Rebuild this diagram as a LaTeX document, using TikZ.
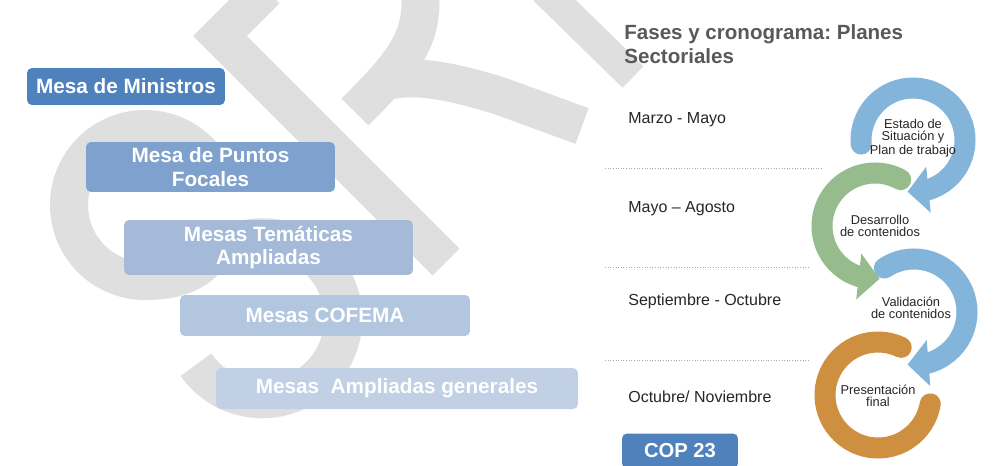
\documentclass[tikz,border=0pt]{standalone}
\usepackage{fontspec}
\setmainfont{Liberation Sans}
\usetikzlibrary{arrows.meta,bending}
\frenchspacing

\definecolor{wmgray}{RGB}{223,223,223}
\definecolor{mesaA}{RGB}{79,129,189}
\definecolor{mesaB}{RGB}{126,161,205}
\definecolor{mesaC}{RGB}{165,186,217}
\definecolor{mesaD}{RGB}{179,198,224}
\definecolor{mesaE}{RGB}{193,208,229}
\definecolor{ringblue}{RGB}{131,181,219}
\definecolor{ringgreen}{RGB}{150,187,140}
\definecolor{ringorange}{RGB}{207,143,64}
\definecolor{titlegray}{RGB}{89,89,89}
\definecolor{textgray}{RGB}{38,38,38}

\begin{document}
\begin{tikzpicture}[x=0.02cm, y=-0.02cm,
		mesa/.style={rounded corners=0.1cm, inner sep=0pt, align=center, text=white, font=\fontsize{11.8}{13.6}\selectfont\bfseries},
		wmark/.style={wmgray, line width=0.76cm},
		ring/.style={line width=0.42cm, line cap=round},
		head/.style={-{Triangle[width=0.9cm, length=0.42cm, flex]}},
		ringtext/.style={align=center, text=textgray, inner sep=0pt, font=\fontsize{7.3}{6.7}\selectfont},
		datelabel/.style={anchor=west, inner sep=0pt, text=textgray, font=\fontsize{9.1}{11}\selectfont},
		sep/.style={gray!70, densely dotted, line width=0.5pt}]

			\clip (0,0) rectangle (1007,466);
			\fill[white] (0,0) rectangle (1007,466);

			% Draw the watermark behind everything
			\draw[wmark, line join=miter] (266,-10) -- (220,36) -- (446,262);
			\draw[wmark] (420,-10) .. controls (424,38) and (405,62) .. (355,112);
			\draw[wmark] (392,80) .. controls (420,75) and (455,82) .. (500,96) -- (582,126);
			\draw[wmark, line width=0.6cm] (544,-10) -- (633,77);
			\draw[wmark] (145,205) ++(-40:76) arc[start angle=-40, end angle=-270, radius=76]
			.. controls (170,281) and (190,276) .. (205,261)
			arc[start angle=225, end angle=505, radius=81];

			% Draw the boxes of the mesas
			\node[mesa, fill=mesaA, minimum width=3.96cm, minimum height=0.74cm] (ministros) at (126,86.5) {Mesa de Ministros};
			\node[mesa, fill=mesaB, minimum width=4.98cm, minimum height=1.0cm] (focales) at (210.5,167) {Mesa de Puntos\\Focales};
			\node[mesa, fill=mesaC, minimum width=5.78cm, minimum height=1.1cm] (tematicas) at (268.5,247.5) {Mesas Temáticas\\Ampliadas};
			\node[mesa, fill=mesaD, minimum width=5.8cm, minimum height=0.82cm] (cofema) at (325,315.5) {Mesas COFEMA};
			\node[mesa, fill=mesaE, minimum width=7.24cm, minimum height=0.82cm] (generales) at (397,388.5) {Mesas\ \ Ampliadas generales};

			% Draw the title and the dates
			\node[anchor=north west, inner sep=0pt, align=left, text=titlegray, font=\fontsize{11.7}{13.6}\selectfont\bfseries] (titulo) at (624,24) {Fases y cronograma: Planes\\Sectoriales};

			\node[datelabel] (marzo) at (628,120) {Marzo - Mayo};
			\node[datelabel] (mayo) at (628,209) {Mayo – Agosto};
			\node[datelabel] (septiembre) at (628,301) {Septiembre - Octubre};
			\node[datelabel] (octubre) at (628,397) {Octubre/ Noviembre};

			\draw[sep] (605,168) -- (822,168);
			\draw[sep] (605,267) -- (810,267);
			\draw[sep] (605,360) -- (810,360);

			\node[mesa, fill=mesaA, minimum width=2.32cm, minimum height=0.7cm, font=\fontsize{11.5}{13}\selectfont\bfseries] (cop) at (680,451) {COP 23};

			% Draw the circular arrows, last phase first
			\draw[ring, ringorange] (878,395) ++(296:53) arc[start angle=296, end angle=9.6, radius=53];
			\draw[ring, ringblue, head] (914,312) ++(236:53) arc[start angle=236, end angle=457, radius=53];
			\draw[ring, ringgreen, head] (875,226) ++(299:53) arc[start angle=299, end angle=85, radius=53];
			\draw[ring, ringblue, head] (913,140) ++(175.5:52) arc[start angle=175.5, end angle=456, radius=52];

			% Texts inside the arrows
			\node[ringtext] (estado) at (913,138) {Estado de\\Situación y\\Plan de trabajo};
			\node[ringtext] (desarrollo) at (880,226) {Desarrollo\\de contenidos};
			\node[ringtext] (validacion) at (911,308) {Validación\\de contenidos};
			\node[ringtext] (presentacion) at (878,396) {Presentación\\final};

\end{tikzpicture}
\end{document}
